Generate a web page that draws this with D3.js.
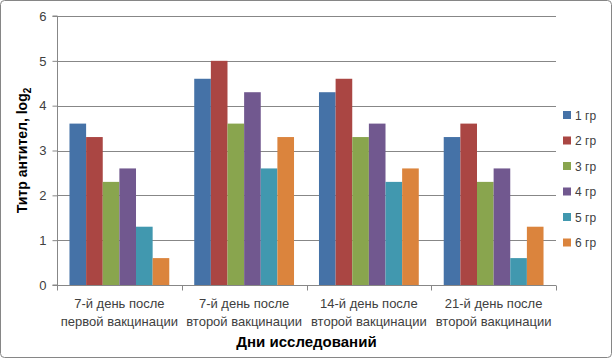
<!DOCTYPE html>
<html><head><meta charset="utf-8">
<script src="https://cdn.jsdelivr.net/npm/d3@7"></script>
<style>body{margin:0;background:#fff}svg{display:block;font-family:"Liberation Sans",Arial,sans-serif}</style>
</head><body><svg id="c" width="612" height="358"></svg>
<script>
const categories = [["7-й день после","первой вакцинации"],["7-й день после","второй вакцинации"],["14-й день после","второй вакцинации"],["21-й день после","второй вакцинации"]];
const seriesNames = ["1 гр","2 гр","3 гр","4 гр","5 гр","6 гр"];
const gr1 = [3.6, 4.6, 4.3, 3.3];
const gr2 = [3.3, 5.0, 4.6, 3.6];
const gr3 = [2.3, 3.6, 3.3, 2.3];
const gr4 = [2.6, 4.3, 3.6, 2.6];
const gr5 = [1.3, 2.6, 2.3, 0.6];
const gr6 = [0.6, 3.3, 2.6, 1.3];
const yTicks = [0,1,2,3,4,5,6];
const colors = ["#4572A7","#AA4643","#89A54E","#71588F","#4198AF","#DB843D"];
const series = [gr1,gr2,gr3,gr4,gr5,gr6];

const svg = d3.select("#c");
svg.append("rect").attr("x",0.5).attr("y",0.5).attr("width",611).attr("height",357).attr("rx",4)
  .attr("fill","#fff").attr("stroke","#868686");

const L=57, R=556, T=16, B=285;
const x0 = d3.scaleBand().domain(d3.range(categories.length)).range([L,R]).paddingInner(0).paddingOuter(0);
const x1 = d3.scaleBand().domain(d3.range(series.length)).range([0,x0.bandwidth()]).paddingOuter(0.75).paddingInner(0);
const y = d3.scaleLinear().domain([0,6]).range([B,T]);

// gridlines
svg.append("g").selectAll("line").data(yTicks.slice(1)).join("line")
  .attr("x1",L).attr("x2",R).attr("y1",d=>Math.round(y(d))+0.5).attr("y2",d=>Math.round(y(d))+0.5)
  .attr("stroke","#878787").attr("stroke-width",1);

// bars
const g = svg.append("g");
series.forEach((s,si)=>{
  g.selectAll(null).data(s).join("rect")
   .attr("x",(d,i)=>x0(i)+x1(si)).attr("width",x1.bandwidth())
   .attr("y",d=>y(d)).attr("height",d=>B-y(d)).attr("fill",colors[si]);
});

// y axis
const ya = svg.append("g").attr("transform",`translate(${L+0.5},0)`)
  .call(d3.axisLeft(y).tickValues(yTicks).tickSize(5).tickPadding(6).tickFormat(d3.format("d")));
ya.select(".domain").attr("stroke","#878787").attr("d",`M-5,${B}H0V${T}H-5`);
ya.selectAll(".tick line").attr("stroke","#878787");
ya.selectAll(".tick text").attr("font-size",13).attr("fill","#404040").attr("font-family","Liberation Sans,Arial,sans-serif");

// x axis
const xa = svg.append("g").attr("transform",`translate(0,${B+0.5})`);
xa.append("line").attr("x1",L).attr("x2",R).attr("stroke","#878787");
xa.selectAll("line.t").data(d3.range(categories.length+1)).join("line").attr("class","t")
  .attr("x1",i=>Math.round(L+i*x0.bandwidth())+0.5).attr("x2",i=>Math.round(L+i*x0.bandwidth())+0.5)
  .attr("y1",0).attr("y2",5).attr("stroke","#878787");
categories.forEach((c,i)=>{
  const t = svg.append("text").attr("text-anchor","middle").attr("font-size",13).attr("fill","#404040");
  c.forEach((line,k)=>t.append("tspan").attr("x",x0(i)+x0.bandwidth()/2).attr("y",B+23+k*17.5).text(line));
});

// axis titles
svg.append("text").attr("x",(L+R)/2).attr("y",347).attr("text-anchor","middle")
  .attr("font-size",15).attr("font-weight","bold").attr("fill","#000").text("Дни исследований");
const yt = svg.append("text").attr("transform",`translate(27,${(T+B)/2}) rotate(-90)`).attr("text-anchor","middle")
  .attr("font-size",14).attr("font-weight","bold").attr("fill","#000");
yt.append("tspan").text("Титр антител, log");
yt.append("tspan").attr("font-size",10).attr("dy",4).text("2");

// legend
const lg = svg.append("g");
seriesNames.forEach((n,i)=>{
  const yy = 115 + i*25.5;
  lg.append("rect").attr("x",563).attr("y",yy-4).attr("width",8).attr("height",8).attr("fill",colors[i]);
  lg.append("text").attr("x",575).attr("y",yy+4.5).attr("font-size",12).attr("fill","#404040").text(n);
});
</script></body></html>
